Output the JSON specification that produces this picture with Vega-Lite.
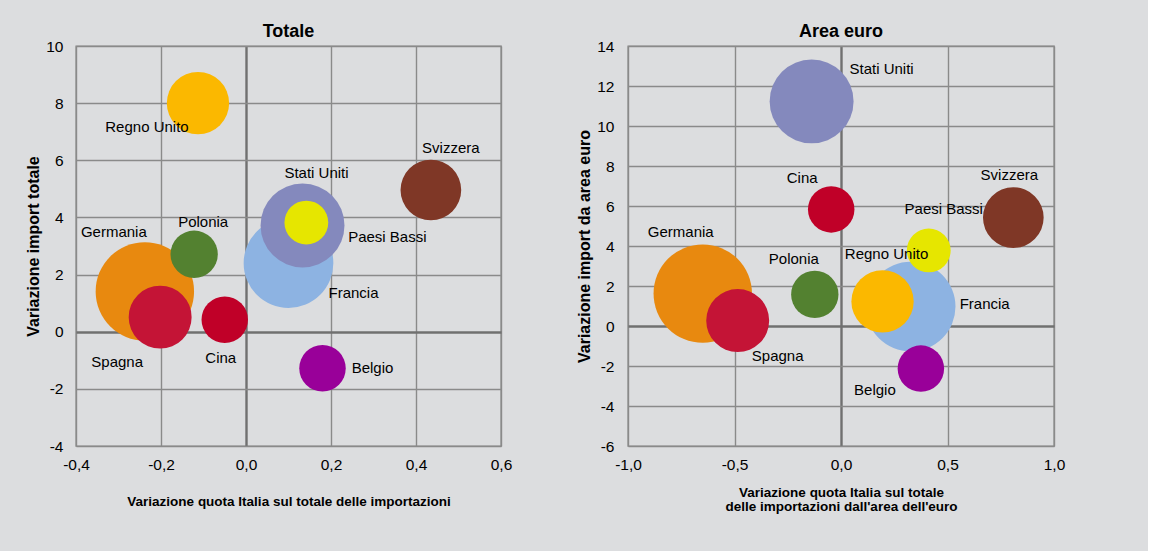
{
  "$schema": "https://vega.github.io/schema/vega-lite/v6.json",
  "background": "#dcdddf",
  "padding": {"left": 25, "top": 22, "right": 82, "bottom": 37},
  "bounds": "flush",
  "spacing": 127,
  "config": {
    "font": "Liberation Sans",
    "locale": {"number": {"decimal": ",", "thousands": ".", "grouping": [3], "currency": ["€", ""], "minus": "-"}},
    "view": {"stroke": "#8a8a8a", "strokeWidth": 1.4, "fill": null},
    "axis": {
      "grid": true,
      "ticks": false,
      "domain": false,
      "labelFont": "Liberation Sans",
      "labelFontSize": 15.5,
      "labelColor": "#000000",
      "titleFont": "Liberation Sans",
      "titleColor": "#000000",
      "titleFontWeight": "bold",
      "labelFlush": false,
      "labelOverlap": false
    },
    "title": {"fontSize": 18, "fontWeight": "bold", "color": "#000000", "font": "Liberation Sans", "offset": -2},
    "text": {"fontSize": 15, "font": "Liberation Sans", "color": "#000000"}
  },
  "data": {
    "values": [
      {"paese": "Germania", "x_tot": -0.238, "y_tot": 1.41, "x_euro": -0.649, "y_euro": 1.62, "peso": 24.2},
      {"paese": "Francia", "x_tot": 0.10, "y_tot": 2.40, "x_euro": 0.327, "y_euro": 0.97, "peso": 20.1},
      {"paese": "Stati Uniti", "x_tot": 0.133, "y_tot": 3.72, "x_euro": -0.138, "y_euro": 11.23, "peso": 17.6},
      {"paese": "Spagna", "x_tot": -0.202, "y_tot": 0.51, "x_euro": -0.485, "y_euro": 0.27, "peso": 9.9},
      {"paese": "Regno Unito", "x_tot": -0.113, "y_tot": 8.0, "x_euro": 0.195, "y_euro": 1.23, "peso": 9.7},
      {"paese": "Svizzera", "x_tot": 0.435, "y_tot": 4.96, "x_euro": 0.809, "y_euro": 5.42, "peso": 9.2},
      {"paese": "Polonia", "x_tot": -0.122, "y_tot": 2.71, "x_euro": -0.123, "y_euro": 1.58, "peso": 5.6},
      {"paese": "Belgio", "x_tot": 0.18, "y_tot": -1.28, "x_euro": 0.375, "y_euro": -2.13, "peso": 5.4},
      {"paese": "Cina", "x_tot": -0.05, "y_tot": 0.42, "x_euro": -0.046, "y_euro": 5.83, "peso": 5.4},
      {"paese": "Paesi Bassi", "x_tot": 0.142, "y_tot": 3.82, "x_euro": 0.412, "y_euro": 3.78, "peso": 4.8}
    ]
  },
  "hconcat": [
    {
      "width": 425,
      "height": 400,
      "title": "Totale",
      "encoding": {
        "x": {
          "field": "x_tot", "type": "quantitative",
          "scale": {"domain": [-0.4, 0.6], "nice": false, "zero": false},
          "axis": {
            "values": [-0.4, -0.2, 0, 0.2, 0.4, 0.6], "format": ".1f",
            "title": "Variazione quota Italia sul totale delle importazioni",
            "titleFontSize": 13.5, "labelPadding": 11, "titlePadding": 22,
            "gridColor": {"condition": {"test": "datum.value === 0", "value": "#707070"}, "value": "#8a8a8a"},
            "gridWidth": {"condition": {"test": "datum.value === 0", "value": 2.4}, "value": 1.4}
          }
        },
        "y": {
          "field": "y_tot", "type": "quantitative",
          "scale": {"domain": [-4, 10], "nice": false, "zero": false},
          "axis": {
            "values": [-4, -2, 0, 2, 4, 6, 8, 10], "format": "d",
            "title": "Variazione import totale",
            "titleFontSize": 16, "labelPadding": 13, "titlePadding": 4,
            "gridColor": {"condition": {"test": "datum.value === 0", "value": "#707070"}, "value": "#8a8a8a"},
            "gridWidth": {"condition": {"test": "datum.value === 0", "value": 2.4}, "value": 1.4}
          }
        }
      },
      "layer": [
        {
          "mark": {"type": "circle", "opacity": 1},
          "encoding": {
            "size": {"field": "peso", "type": "quantitative", "scale": {"domain": [0, 24.2], "range": [0, 9683]}, "legend": null},
            "color": {"field": "paese", "type": "nominal", "legend": null,
              "scale": {"domain": ["Germania", "Francia", "Stati Uniti", "Spagna", "Regno Unito", "Svizzera", "Polonia", "Belgio", "Cina", "Paesi Bassi"],
                        "range": ["#E8890F", "#8DB3E2", "#8489BD", "#C41436", "#FBB800", "#7F3726", "#538130", "#990099", "#C00028", "#E6E600"]}},
            "order": {"field": "peso", "type": "quantitative", "sort": "descending"}
          }
        },
        {"transform": [{"filter": "datum.paese === 'Regno Unito'"}], "mark": {"type": "text", "dx": -51, "dy": 24}, "encoding": {"text": {"field": "paese"}}},
        {"transform": [{"filter": "datum.paese === 'Svizzera'"}], "mark": {"type": "text", "dx": 20, "dy": -42}, "encoding": {"text": {"field": "paese"}}},
        {"transform": [{"filter": "datum.paese === 'Stati Uniti'"}], "mark": {"type": "text", "dx": 14, "dy": -52}, "encoding": {"text": {"field": "paese"}}},
        {"transform": [{"filter": "datum.paese === 'Paesi Bassi'"}], "mark": {"type": "text", "dx": 81, "dy": 14}, "encoding": {"text": {"field": "paese"}}},
        {"transform": [{"filter": "datum.paese === 'Francia'"}], "mark": {"type": "text", "dx": 65, "dy": 30}, "encoding": {"text": {"field": "paese"}}},
        {"transform": [{"filter": "datum.paese === 'Polonia'"}], "mark": {"type": "text", "dx": 9, "dy": -32}, "encoding": {"text": {"field": "paese"}}},
        {"transform": [{"filter": "datum.paese === 'Germania'"}], "mark": {"type": "text", "dx": -31, "dy": -59}, "encoding": {"text": {"field": "paese"}}},
        {"transform": [{"filter": "datum.paese === 'Spagna'"}], "mark": {"type": "text", "dx": -43, "dy": 45}, "encoding": {"text": {"field": "paese"}}},
        {"transform": [{"filter": "datum.paese === 'Cina'"}], "mark": {"type": "text", "dx": -4, "dy": 38}, "encoding": {"text": {"field": "paese"}}},
        {"transform": [{"filter": "datum.paese === 'Belgio'"}], "mark": {"type": "text", "dx": 50, "dy": 0}, "encoding": {"text": {"field": "paese"}}}
      ]
    },
    {
      "width": 426,
      "height": 400,
      "title": "Area euro",
      "encoding": {
        "x": {
          "field": "x_euro", "type": "quantitative",
          "scale": {"domain": [-1, 1], "nice": false, "zero": false},
          "axis": {
            "values": [-1, -0.5, 0, 0.5, 1], "format": ".1f",
            "title": ["Variazione quota Italia sul totale", "delle importazioni dall'area dell'euro"],
            "titleFontSize": 13.5, "titleLineHeight": 14, "labelPadding": 11, "titlePadding": 13,
            "gridColor": {"condition": {"test": "datum.value === 0", "value": "#707070"}, "value": "#8a8a8a"},
            "gridWidth": {"condition": {"test": "datum.value === 0", "value": 2.4}, "value": 1.4}
          }
        },
        "y": {
          "field": "y_euro", "type": "quantitative",
          "scale": {"domain": [-6, 14], "nice": false, "zero": false},
          "axis": {
            "values": [-6, -4, -2, 0, 2, 4, 6, 8, 10, 12, 14], "format": "d",
            "title": "Variazione import da area euro",
            "titleFontSize": 16, "labelPadding": 14, "titlePadding": 4,
            "gridColor": {"condition": {"test": "datum.value === 0", "value": "#707070"}, "value": "#8a8a8a"},
            "gridWidth": {"condition": {"test": "datum.value === 0", "value": 2.4}, "value": 1.4}
          }
        }
      },
      "layer": [
        {
          "mark": {"type": "circle", "opacity": 1},
          "encoding": {
            "size": {"field": "peso", "type": "quantitative", "scale": {"domain": [0, 24.2], "range": [0, 9683]}, "legend": null},
            "color": {"field": "paese", "type": "nominal", "legend": null,
              "scale": {"domain": ["Germania", "Francia", "Stati Uniti", "Spagna", "Regno Unito", "Svizzera", "Polonia", "Belgio", "Cina", "Paesi Bassi"],
                        "range": ["#E8890F", "#8DB3E2", "#8489BD", "#C41436", "#FBB800", "#7F3726", "#538130", "#990099", "#C00028", "#E6E600"]}},
            "order": {"field": "peso", "type": "quantitative", "sort": "descending"}
          }
        },
        {"transform": [{"filter": "datum.paese === 'Stati Uniti'"}], "mark": {"type": "text", "dx": 70, "dy": -32}, "encoding": {"text": {"field": "paese"}}},
        {"transform": [{"filter": "datum.paese === 'Cina'"}], "mark": {"type": "text", "dx": -29, "dy": -31}, "encoding": {"text": {"field": "paese"}}},
        {"transform": [{"filter": "datum.paese === 'Svizzera'"}], "mark": {"type": "text", "dx": -4, "dy": -43}, "encoding": {"text": {"field": "paese"}}},
        {"transform": [{"filter": "datum.paese === 'Paesi Bassi'"}], "mark": {"type": "text", "dx": 15, "dy": -41}, "encoding": {"text": {"field": "paese"}}},
        {"transform": [{"filter": "datum.paese === 'Germania'"}], "mark": {"type": "text", "dx": -22, "dy": -62}, "encoding": {"text": {"field": "paese"}}},
        {"transform": [{"filter": "datum.paese === 'Polonia'"}], "mark": {"type": "text", "dx": -21, "dy": -35}, "encoding": {"text": {"field": "paese"}}},
        {"transform": [{"filter": "datum.paese === 'Regno Unito'"}], "mark": {"type": "text", "dx": 4, "dy": -47}, "encoding": {"text": {"field": "paese"}}},
        {"transform": [{"filter": "datum.paese === 'Francia'"}], "mark": {"type": "text", "dx": 74, "dy": -3}, "encoding": {"text": {"field": "paese"}}},
        {"transform": [{"filter": "datum.paese === 'Spagna'"}], "mark": {"type": "text", "dx": 40, "dy": 35}, "encoding": {"text": {"field": "paese"}}},
        {"transform": [{"filter": "datum.paese === 'Belgio'"}], "mark": {"type": "text", "dx": -46, "dy": 21}, "encoding": {"text": {"field": "paese"}}}
      ]
    }
  ]
}
